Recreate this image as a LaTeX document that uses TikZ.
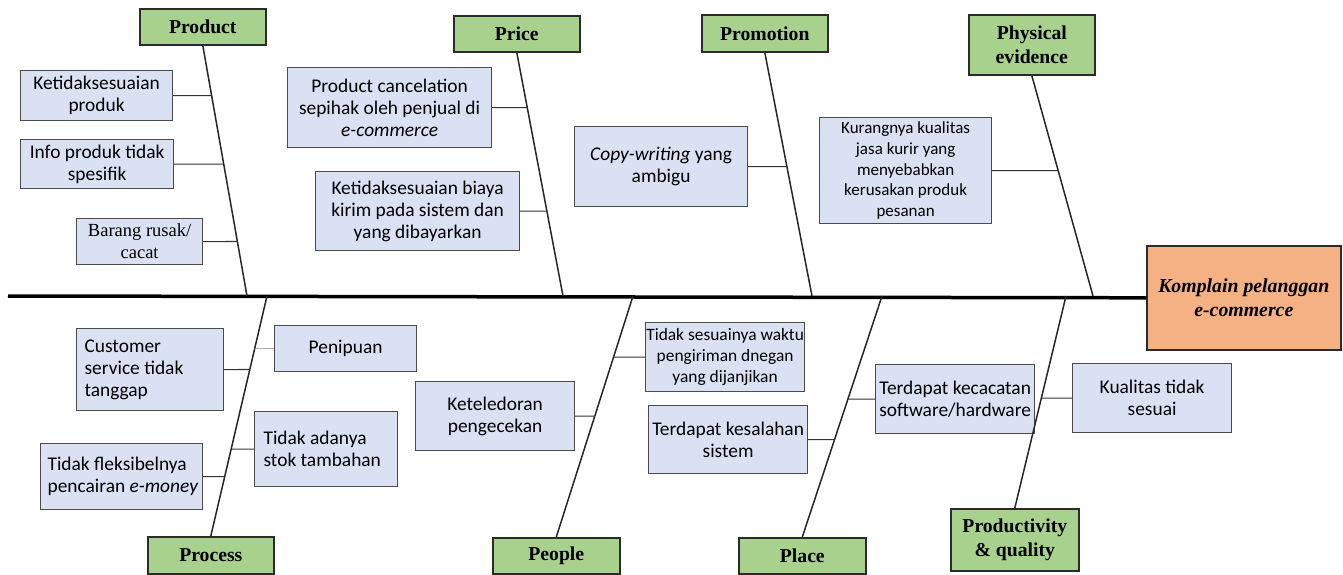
\documentclass[tikz,border=0pt]{standalone}
\usepackage{fontspec}
\newfontfamily\bodyf{Carlito}
\newfontfamily\serf{Liberation Serif}
\definecolor{catfill}{HTML}{A9D18E}
\definecolor{causefill}{HTML}{DAE1F3}
\definecolor{headfill}{HTML}{F4B183}
\definecolor{edgec}{HTML}{2B2B2B}
\begin{document}
\begin{tikzpicture}[x=1pt,y=-1pt,
  cat/.style={draw=edgec, fill=catfill, line width=1.6pt, font=\serf\bfseries\fontsize{19.7}{23.5}\selectfont, align=center, inner sep=0pt, anchor=north west},
  cause/.style={draw=edgec!85, fill=causefill, line width=1.2pt, font=\bodyf\fontsize{19.4}{22}\selectfont, align=center, inner sep=0pt, anchor=north west},
  small/.style={font=\bodyf\fontsize{17}{20.7}\selectfont},
  lefttext/.style={align=flush left},
  bone/.style={line width=1.5pt, draw=black!85},
  conn/.style={line width=1.2pt, draw=black!80},
  thinconn/.style={line width=0.6pt, draw=black!50}]
\useasboundingbox (0,0) rectangle (1343,574);
% head
\node[draw=edgec, fill=headfill, line width=1.6pt, inner sep=0pt, anchor=north west, minimum width=194, minimum height=104,
  font=\serf\bfseries\itshape\fontsize{19.8}{24}\selectfont, align=center] (head) at (1146,245) {Komplain pelanggan\\e-commerce};
% categories
\node[cat, minimum width=126, minimum height=36] (prod) at (139,8) {Product};
\node[cat, minimum width=126, minimum height=36] (price) at (453,15) {Price};
\node[cat, minimum width=126, minimum height=37] (promo) at (701,14) {Promotion};
\node[cat, minimum width=126, minimum height=60] (phys) at (968,14) {Physical\\evidence};
\node[cat, minimum width=126, minimum height=37] (proc) at (147,536) {Process};
\node[cat, minimum width=127, minimum height=36] (peop) at (492,537) {People};
\node[cat, minimum width=127, minimum height=36] (place) at (738,537) {Place};
\node[cat, minimum width=128, minimum height=62] (pq) at (950,508) {Productivity\\\& quality};
% spine points
\coordinate (tail) at (8,296);
\coordinate (prodE) at (247,296);
\coordinate (priceE) at (563,296);
\coordinate (promoE) at (812,296);
\coordinate (physE) at (1093,296);
\coordinate (procE) at (267,296);
\coordinate (peopE) at (633,296);
\coordinate (placeE) at (882,296);
\coordinate (pqE) at (1066,296);
% causes
\node[cause, minimum width=152, minimum height=50] (c1) at (20,70) {Ketidaksesuaian\\produk};
\node[cause, minimum width=153, minimum height=49] (c2) at (20,139) {Info produk tidak\\spesifik};
\node[cause, minimum width=126, minimum height=46, font=\serf\fontsize{18.5}{22}\selectfont] (c3) at (76,218) {Barang rusak/\\cacat};
\node[cause, minimum width=204, minimum height=80] (c4) at (287,67) {Product cancelation\\sepihak oleh penjual di\\\textit{e-commerce}};
\node[cause, minimum width=204, minimum height=79] (c5) at (315,171) {Ketidaksesuaian biaya\\kirim pada sistem dan\\yang dibayarkan};
\node[cause, minimum width=173, minimum height=80] (c6) at (574,126) {\textit{Copy-writing} yang\\ambigu};
\node[cause, small, minimum width=172, minimum height=106] (c7) at (819,117) {Kurangnya kualitas\\jasa kurir yang\\menyebabkan\\kerusakan produk\\pesanan};
\node[cause, lefttext, inner xsep=8pt, text width=131, minimum height=82] (c8) at (76,328) {Customer\\service tidak\\tanggap};
\node[cause, minimum width=142, minimum height=46] (c9) at (274,325) {Penipuan};
\node[cause, lefttext, inner xsep=9pt, text width=125, minimum height=75] (c10) at (254,411) {Tidak adanya\\stok tambahan};
\node[cause, lefttext, inner xsep=7pt, text width=148, minimum height=66] (c11) at (40,443) {\mbox{Tidak fleksibelnya}\\\mbox{pencairan \textit{e-money}}};
\node[cause, minimum width=159, minimum height=69] (c12) at (415,381) {Keteledoran\\pengecekan};
\node[cause, small, font=\bodyf\fontsize{17.4}{20.7}\selectfont, minimum width=159, minimum height=69] (c13) at (645,322) {Tidak sesuainya waktu\\pengiriman dnegan\\yang dijanjikan};
\node[cause, minimum width=159, minimum height=68] (c14) at (648,405) {Terdapat kesalahan\\sistem};
\node[cause, minimum width=159, minimum height=69] (c15) at (875,364) {Terdapat kecacatan\\software/hardware};
\node[cause, minimum width=159, minimum height=69] (c16) at (1072,363) {Kualitas tidak\\sesuai};
% spine
\draw[line width=3.5pt] (tail) -- (head.west);
% bones
\draw[bone] (prod.south) -- (prodE);
\draw[bone] (price.south) -- (priceE);
\draw[bone] (promo.south) -- (promoE);
\draw[bone] (phys.south) -- (physE);
\draw[bone] (proc.north) -- (procE);
\draw[bone] (peop.north) -- (peopE);
\draw[bone] (place.north) -- (placeE);
\draw[bone] (pq.north) -- (pqE);
% connectors
\draw[conn] (c1.east) -- (intersection of prod.south--prodE and c1.east--c1.west);
\draw[conn] (c2.east) -- (intersection of prod.south--prodE and c2.east--c2.west);
\draw[conn] (c3.east) -- (intersection of prod.south--prodE and c3.east--c3.west);
\draw[conn] (c4.east) -- (intersection of price.south--priceE and c4.east--c4.west);
\draw[conn] (c5.east) -- (intersection of price.south--priceE and c5.east--c5.west);
\draw[conn] (c6.east) -- (intersection of promo.south--promoE and c6.east--c6.west);
\draw[conn] (c7.east) -- (intersection of phys.south--physE and c7.east--c7.west);
\draw[conn] (c8.east) -- (intersection of proc.north--procE and c8.east--c8.west);
\draw[thinconn] (c9.west) -- (intersection of proc.north--procE and c9.east--c9.west);
\draw[conn] (c10.west) -- (intersection of proc.north--procE and c10.east--c10.west);
\draw[conn] (c11.east) -- (intersection of proc.north--procE and c11.east--c11.west);
\draw[conn] (c12.east) -- (intersection of peop.north--peopE and c12.east--c12.west);
\draw[conn] (c13.west) -- (intersection of peop.north--peopE and c13.east--c13.west);
\draw[conn] (c14.east) -- (intersection of place.north--placeE and c14.east--c14.west);
\draw[conn] (c15.west) -- (intersection of place.north--placeE and c15.east--c15.west);
\draw[conn] (c16.west) -- (intersection of pq.north--pqE and c16.east--c16.west);
\end{tikzpicture}
\end{document}
